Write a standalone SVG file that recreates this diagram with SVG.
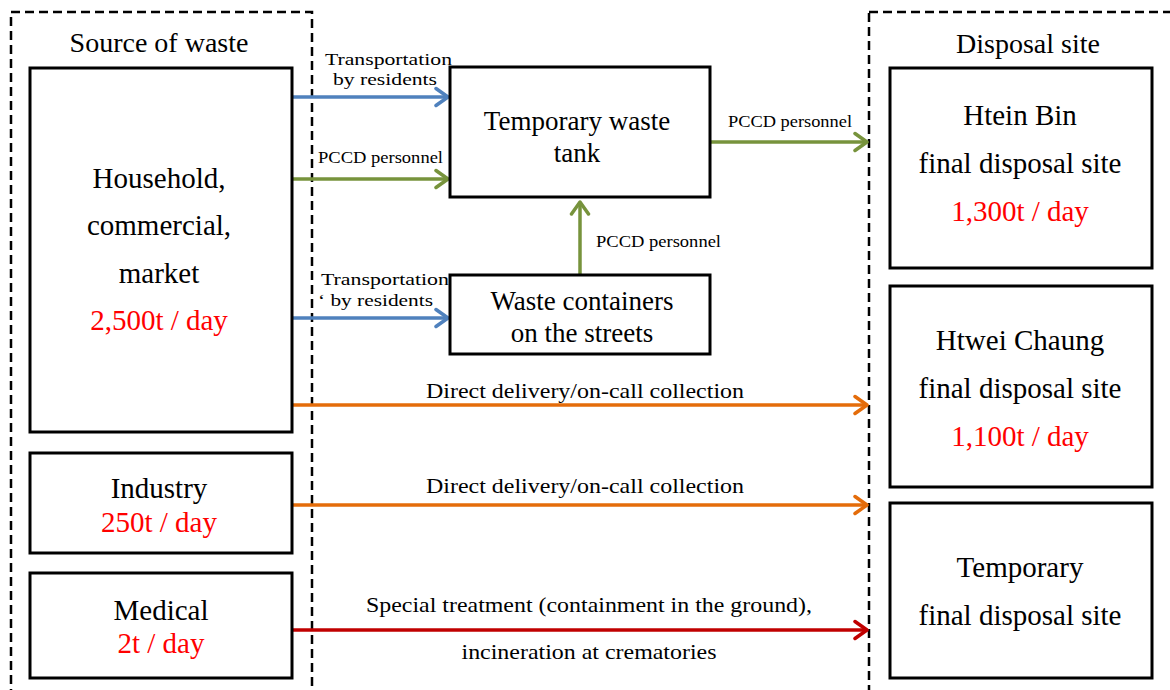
<svg xmlns="http://www.w3.org/2000/svg" width="1170" height="690" viewBox="0 0 1170 690">
  <style>
    .frame { fill: none; stroke: #000; stroke-width: 2.5; stroke-dasharray: 9 5; }
    .box { fill: #fff; stroke: #000; stroke-width: 3; }
    .t { font-family: "Liberation Serif", "Times New Roman", serif; fill: #000; text-anchor: middle; }
    .big { font-size: 29px; }
    .head { font-size: 28px; }
    .mid { font-size: 27px; }
    .qty { fill: #ff0000; }
    .lbl { font-family: "Liberation Serif", "Times New Roman", serif; fill: #000; font-size: 17px; }
    .flow { font-family: "Liberation Serif", "Times New Roman", serif; fill: #000; font-size: 21px; text-anchor: middle; }
    .c { fill: none; stroke-width: 3.5; }
    .blue { stroke: #4f81bd; }
    .green { stroke: #77933c; }
    .orange { stroke: #e46c0a; }
    .red { stroke: #c00000; }
  </style>
  <defs>
    <marker id="ah-blue" markerUnits="userSpaceOnUse" markerWidth="18" markerHeight="22" refX="14" refY="10" orient="auto" viewBox="0 0 18 20">
      <path d="M2,1.5 L14,10 L2,18.5" fill="none" stroke="#4f81bd" stroke-width="3.5" stroke-linecap="round" stroke-linejoin="round"/>
    </marker>
    <marker id="ah-green" markerUnits="userSpaceOnUse" markerWidth="18" markerHeight="22" refX="14" refY="10" orient="auto" viewBox="0 0 18 20">
      <path d="M2,1.5 L14,10 L2,18.5" fill="none" stroke="#77933c" stroke-width="3.5" stroke-linecap="round" stroke-linejoin="round"/>
    </marker>
    <marker id="ah-orange" markerUnits="userSpaceOnUse" markerWidth="18" markerHeight="22" refX="14" refY="10" orient="auto" viewBox="0 0 18 20">
      <path d="M2,1.5 L14,10 L2,18.5" fill="none" stroke="#e46c0a" stroke-width="3.5" stroke-linecap="round" stroke-linejoin="round"/>
    </marker>
    <marker id="ah-red" markerUnits="userSpaceOnUse" markerWidth="18" markerHeight="22" refX="14" refY="10" orient="auto" viewBox="0 0 18 20">
      <path d="M2,1.5 L14,10 L2,18.5" fill="none" stroke="#c00000" stroke-width="3.5" stroke-linecap="round" stroke-linejoin="round"/>
    </marker>
  </defs>

  <rect width="1170" height="690" fill="#fff"/>

  <!-- dashed group frames -->
  <g id="frame-source">
    <rect class="frame" x="11" y="12" width="301" height="700"/>
    <text class="t head" x="159" y="52">Source of waste</text>
  </g>
  <g id="frame-disposal">
    <rect class="frame" x="869" y="12" width="320" height="700"/>
    <text class="t head" x="1028" y="53">Disposal site</text>
  </g>

  <!-- connectors -->
  <g id="connectors">
    <line class="c blue" x1="292" y1="97" x2="448" y2="97" marker-end="url(#ah-blue)"/>
    <line class="c green" x1="292" y1="179" x2="448" y2="179" marker-end="url(#ah-green)"/>
    <line class="c green" x1="580" y1="275" x2="580" y2="202" marker-end="url(#ah-green)"/>
    <line class="c green" x1="710" y1="142" x2="867" y2="142" marker-end="url(#ah-green)"/>
    <line class="c blue" x1="292" y1="318" x2="448" y2="318" marker-end="url(#ah-blue)"/>
    <line class="c orange" x1="292" y1="405" x2="867" y2="405" marker-end="url(#ah-orange)"/>
    <line class="c orange" x1="292" y1="505" x2="867" y2="505" marker-end="url(#ah-orange)"/>
    <line class="c red" x1="292" y1="630" x2="867" y2="630" marker-end="url(#ah-red)"/>

    <text class="lbl" x="325" y="65" textLength="127" lengthAdjust="spacingAndGlyphs">Transportation</text>
    <text class="lbl" x="333" y="85" textLength="104" lengthAdjust="spacingAndGlyphs">by residents</text>
    <text class="lbl" x="318" y="163" textLength="125" lengthAdjust="spacingAndGlyphs">PCCD personnel</text>
    <text class="lbl" x="728" y="127" textLength="124" lengthAdjust="spacingAndGlyphs">PCCD personnel</text>
    <text class="lbl" x="596" y="247" textLength="125" lengthAdjust="spacingAndGlyphs">PCCD personnel</text>
    <text class="lbl" x="321" y="285" textLength="128" lengthAdjust="spacingAndGlyphs">Transportation</text>
    <text class="lbl" x="318" y="306" textLength="115" lengthAdjust="spacingAndGlyphs">‘ by residents</text>

    <text class="flow" x="585" y="398" textLength="318" lengthAdjust="spacingAndGlyphs">Direct delivery/on-call collection</text>
    <text class="flow" x="585" y="493" textLength="318" lengthAdjust="spacingAndGlyphs">Direct delivery/on-call collection</text>
    <text class="flow" x="589" y="612" textLength="446" lengthAdjust="spacingAndGlyphs">Special treatment (containment in the ground),</text>
    <text class="flow" x="589" y="659" textLength="255" lengthAdjust="spacingAndGlyphs">incineration at crematories</text>
  </g>

  <!-- sources -->
  <g id="node-household">
    <rect class="box" x="30" y="68" width="262" height="364"/>
    <text class="t big" x="159" y="188">Household,</text>
    <text class="t big" x="159" y="235">commercial,</text>
    <text class="t big" x="159" y="283">market</text>
    <text class="t big qty" x="159" y="330">2,500t / day</text>
  </g>
  <g id="node-industry">
    <rect class="box" x="30" y="453" width="262" height="100"/>
    <text class="t big" x="159" y="498">Industry</text>
    <text class="t big qty" x="159" y="532">250t / day</text>
  </g>
  <g id="node-medical">
    <rect class="box" x="30" y="573" width="262" height="105"/>
    <text class="t big" x="161" y="620">Medical</text>
    <text class="t big qty" x="161" y="653">2t / day</text>
  </g>

  <!-- intermediate collection points -->
  <g id="node-tank">
    <rect class="box" x="450" y="67" width="260" height="130"/>
    <text class="t mid" x="577" y="130">Temporary waste</text>
    <text class="t mid" x="577" y="162">tank</text>
  </g>
  <g id="node-containers">
    <rect class="box" x="450" y="275" width="260" height="79"/>
    <text class="t mid" x="582" y="310">Waste containers</text>
    <text class="t mid" x="582" y="342">on the streets</text>
  </g>

  <!-- disposal sites -->
  <g id="node-htein-bin">
    <rect class="box" x="890" y="68" width="262" height="200"/>
    <text class="t big" x="1020" y="125">Htein Bin</text>
    <text class="t big" x="1020" y="173">final disposal site</text>
    <text class="t big qty" x="1020" y="221">1,300t / day</text>
  </g>
  <g id="node-htwei-chaung">
    <rect class="box" x="890" y="286" width="262" height="201"/>
    <text class="t big" x="1020" y="350">Htwei Chaung</text>
    <text class="t big" x="1020" y="398">final disposal site</text>
    <text class="t big qty" x="1020" y="446">1,100t / day</text>
  </g>
  <g id="node-temporary-site">
    <rect class="box" x="890" y="503" width="262" height="175"/>
    <text class="t big" x="1020" y="577">Temporary</text>
    <text class="t big" x="1020" y="625">final disposal site</text>
  </g>
</svg>
